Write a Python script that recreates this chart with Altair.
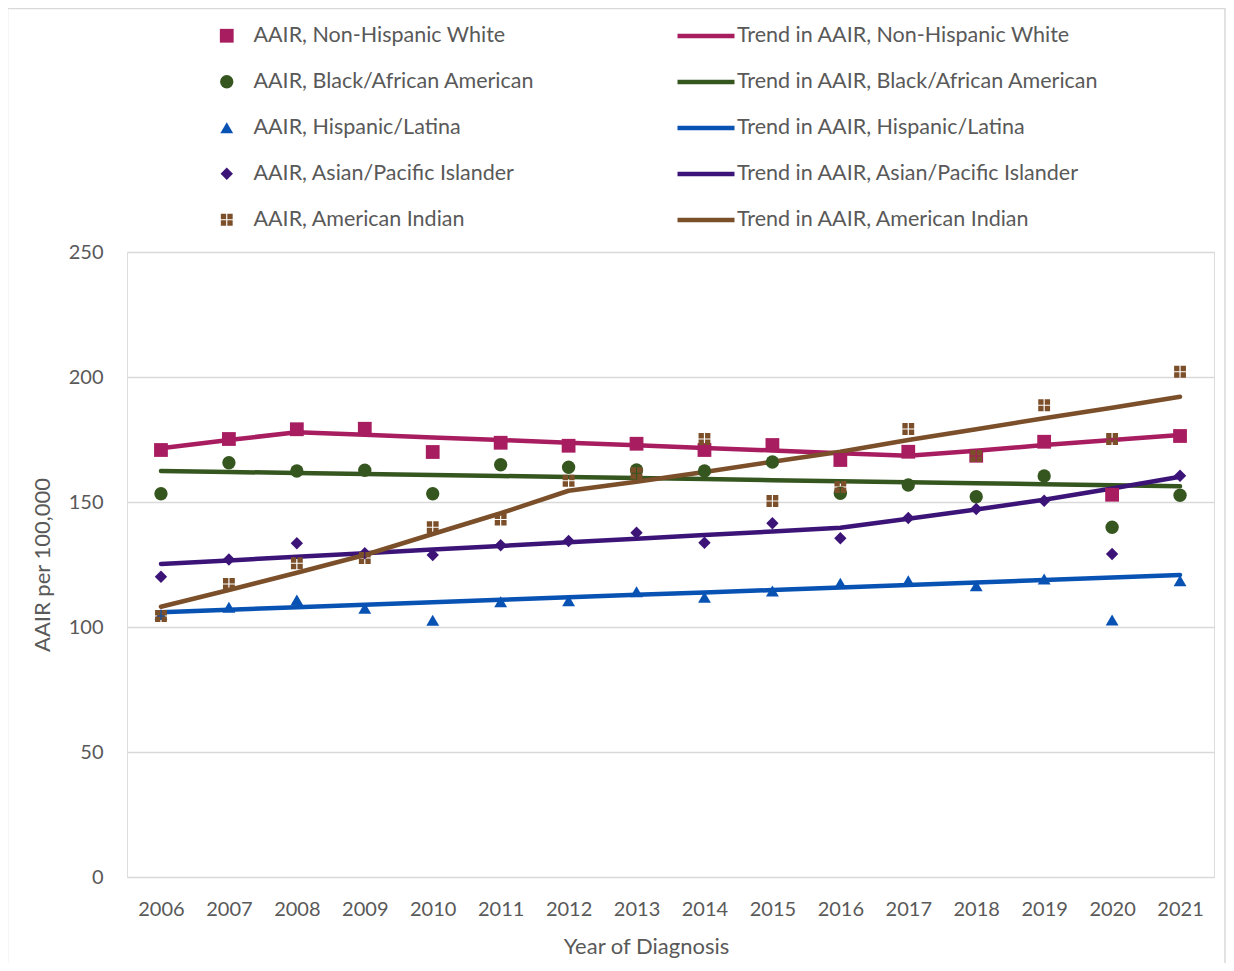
import altair as alt
import pandas as pd

years = list(range(2006, 2022))

groups = ["Non-Hispanic White", "Black/African American", "Hispanic/Latina",
          "Asian/Pacific Islander", "American Indian"]

aair_nhw = [170.8, 175.2, 179.1, 179.3, 170.0, 173.7, 172.5, 173.3, 170.8, 172.8, 166.8, 170.1, 168.5, 174.1, 152.9, 176.4]
aair_black = [153.3, 165.7, 162.4, 162.7, 153.3, 164.9, 163.9, 162.8, 162.4, 166.0, 153.5, 156.8, 152.1, 160.4, 139.9, 152.7]
aair_hisp = [105.0, 107.9, 110.8, 107.5, 102.7, 110.1, 110.5, 114.1, 111.9, 114.4, 117.5, 118.5, 116.5, 119.2, 102.8, 118.5]
aair_api = [120.1, 127.0, 133.5, 129.5, 128.8, 132.7, 134.4, 137.7, 133.7, 141.5, 135.5, 143.6, 147.2, 150.5, 129.2, 160.5]
aair_ai = [104.4, 117.2, 125.5, 127.6, 139.9, 143.0, 158.5, 161.5, 175.2, 150.4, 156.0, 179.2, 168.4, 188.7, 175.2, 202.1]

trend_nhw = [171.5, 174.8, 177.9, 176.9, 175.8, 174.8, 173.7, 172.7, 171.6, 170.6, 169.5, 168.5, 170.5, 172.8, 174.8, 176.8]
trend_black = [162.4, 162.0, 161.6, 161.2, 160.8, 160.4, 160.0, 159.6, 159.2, 158.7, 158.3, 157.9, 157.5, 157.1, 156.7, 156.3]
trend_hisp = [105.9, 106.9, 107.9, 108.9, 109.9, 110.9, 111.9, 112.9, 113.8, 114.8, 115.8, 116.8, 117.8, 118.8, 119.8, 120.8]
trend_api = [125.2, 126.6, 128.1, 129.5, 131.0, 132.4, 133.9, 135.3, 136.8, 138.2, 139.7, 143.3, 147.0, 150.9, 155.4, 160.1]
trend_ai = [108.1, 114.8, 121.7, 128.8, 137.2, 145.5, 154.5, 158.1, 162.0, 166.1, 170.1, 174.8, 179.1, 183.5, 187.7, 192.1]

colors = ["#a81c60", "#365620", "#0852b4", "#3c1478", "#7b4f2a"]

aair_series = [aair_nhw, aair_black, aair_hisp, aair_api, aair_ai]
trend_series = [trend_nhw, trend_black, trend_hisp, trend_api, trend_ai]

point_names = ["AAIR, " + g for g in groups]
trend_names = ["Trend in AAIR, " + g for g in groups]

rows_p = []
for name, vals in zip(point_names, aair_series):
    for y, v in zip(years, vals):
        rows_p.append({"year": str(y), "value": v, "series": name})
df_p = pd.DataFrame(rows_p)

rows_t = []
for name, vals in zip(trend_names, trend_series):
    for y, v in zip(years, vals):
        rows_t.append({"year": str(y), "value": v, "trend": name})
df_t = pd.DataFrame(rows_t)

FONT = "Lato"
TXT = "#595959"

ai_path = ("M-1,-1H-0.1V-0.1H-1Z M0.1,-1H1V-0.1H0.1Z "
           "M-1,0.1H-0.1V1H-1Z M0.1,0.1H1V1H0.1Z")
shapes = ["square", "circle", "triangle-up", "diamond", ai_path]
marker_sizes = [190, 140, 150, 135, 225]

x_enc = alt.X("year:O", scale=alt.Scale(type="point", padding=0.5),
              axis=alt.Axis(title="Year of Diagnosis", labelAngle=0, ticks=False,
                            domain=False, grid=False, labelPadding=22,
                            labelFontSize=20, labelFont=FONT, labelColor=TXT,
                            titleFontSize=22, titleFont=FONT, titleColor=TXT,
                            titleFontWeight="normal", titleX=519, titleY=69,
                            titleBaseline="middle"))
y_enc = alt.Y("value:Q", scale=alt.Scale(domain=[0, 250], nice=False),
              axis=alt.Axis(title="AAIR per 100,000", values=[0, 50, 100, 150, 200, 250],
                            ticks=False, domain=False, labelPadding=24,
                            labelFontSize=20, labelFont=FONT, labelColor=TXT,
                            gridColor="#d9d9d9", gridWidth=1.5,
                            titleFontSize=22, titleFont=FONT, titleColor=TXT,
                            titleFontWeight="normal", titleX=-85, titleY=312.5,
                            titleAngle=-90, titleBaseline="middle"))

pt_legend = alt.Legend(orient="none", legendX=89, legendY=-227, direction="vertical",
                       labelFontSize=21.5, labelFont=FONT, labelColor=TXT,
                       labelOffset=16, labelLimit=600, rowPadding=23, padding=0,
                       symbolStrokeWidth=0)

lines = alt.Chart(df_t).mark_line(strokeWidth=4.5, strokeCap="round", strokeJoin="round").encode(
    x=x_enc,
    y=y_enc,
    stroke=alt.Stroke("trend:N", title=None,
                      scale=alt.Scale(domain=trend_names, range=colors),
                      legend=alt.Legend(orient="none", legendX=548, legendY=-247,
                                        direction="vertical", symbolType="stroke",
                                        symbolSize=3249, symbolStrokeWidth=4.5,
                                        labelFontSize=21.5, labelFont=FONT, labelColor=TXT,
                                        labelOffset=0, labelLimit=600, rowPadding=4,
                                        padding=0)),
    detail="trend:N",
)

points = alt.Chart(df_p).mark_point(filled=True, opacity=1, strokeWidth=0).encode(
    x=x_enc,
    y=y_enc,
    fill=alt.Fill("series:N", title=None,
                  scale=alt.Scale(domain=point_names, range=colors), legend=pt_legend),
    shape=alt.Shape("series:N", title=None,
                    scale=alt.Scale(domain=point_names, range=shapes), legend=pt_legend),
    size=alt.Size("series:N", title=None,
                  scale=alt.Scale(domain=point_names, range=marker_sizes), legend=pt_legend),
)

frame_df = pd.DataFrame({"k": [0]})
frame = alt.Chart(frame_df).mark_rect(fill=None, stroke="#d9d9d9", strokeWidth=1.5).encode(
    x=alt.value(-119.5), x2=alt.value(1098), y=alt.value(-243.5), y2=alt.value(720)
)

chart = alt.layer(frame, lines, points).properties(
    width=1087, height=625,
    autosize=alt.AutoSizeParams(type="none"),
    padding={"left": 119, "top": 244, "right": 12, "bottom": 86},
).configure_view(fill="#f2f2f2", stroke=None).configure(background="white")

chart.save("out.html", embed_options={"renderer": "svg", "actions": False})
